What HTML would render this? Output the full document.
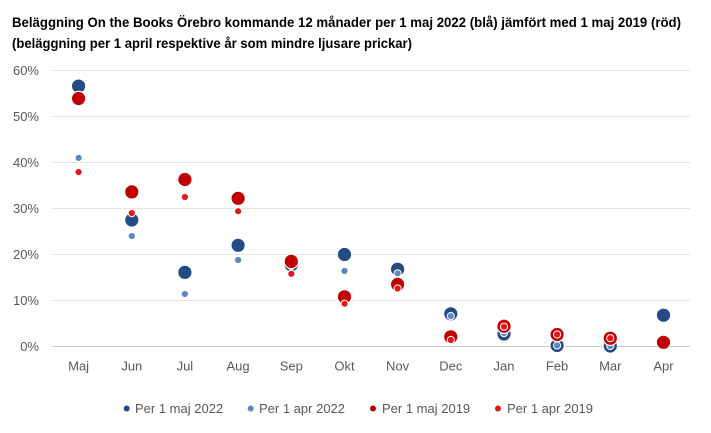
<!DOCTYPE html>
<html><head><meta charset="utf-8"><style>
html,body{margin:0;padding:0;background:#fff;}
svg{display:block;}
text{font-family:"Liberation Sans",sans-serif;}
</style></head><body>
<svg width="711" height="433" viewBox="0 0 711 433" xmlns="http://www.w3.org/2000/svg">
<rect width="711" height="433" fill="#fff"/>
<text x="12" y="27" font-size="13.5" font-weight="bold" fill="#000" textLength="669" lengthAdjust="spacingAndGlyphs">Beläggning On the Books Örebro kommande 12 månader per 1 maj 2022 (blå) jämfört med 1 maj 2019  (röd)</text>
<text x="12" y="48" font-size="13.5" font-weight="bold" fill="#000" textLength="400" lengthAdjust="spacingAndGlyphs">(beläggning per 1 april respektive år som mindre ljusare prickar)</text>
<g stroke="#E4E4E4" stroke-width="1">
<line x1="52" y1="70.5" x2="690" y2="70.5"/>
<line x1="52" y1="116.5" x2="690" y2="116.5"/>
<line x1="52" y1="162.5" x2="690" y2="162.5"/>
<line x1="52" y1="208.5" x2="690" y2="208.5"/>
<line x1="52" y1="254.5" x2="690" y2="254.5"/>
<line x1="52" y1="300.5" x2="690" y2="300.5"/>
</g>
<line x1="52" y1="346.5" x2="690" y2="346.5" stroke="#C8C8C8" stroke-width="1"/>
<g font-size="13" fill="#595959" text-anchor="end">
<text x="39" y="75">60%</text>
<text x="39" y="121">50%</text>
<text x="39" y="167">40%</text>
<text x="39" y="213">30%</text>
<text x="39" y="259">20%</text>
<text x="39" y="305">10%</text>
<text x="39" y="351">0%</text>
</g>
<g font-size="13" fill="#595959" text-anchor="middle">
<text x="78.6" y="370.5">Maj</text>
<text x="131.8" y="370.5">Jun</text>
<text x="184.9" y="370.5">Jul</text>
<text x="238.1" y="370.5">Aug</text>
<text x="291.3" y="370.5">Sep</text>
<text x="344.5" y="370.5">Okt</text>
<text x="397.6" y="370.5">Nov</text>
<text x="450.8" y="370.5">Dec</text>
<text x="504.0" y="370.5">Jan</text>
<text x="557.1" y="370.5">Feb</text>
<text x="610.3" y="370.5">Mar</text>
<text x="663.5" y="370.5">Apr</text>
</g>
<!-- big blue 2022 -->
<g fill="#234B85" stroke="#fff" stroke-width="1.2">
<circle cx="78.6" cy="86.1" r="7.2"/>
<circle cx="131.8" cy="220" r="7.2"/>
<circle cx="184.9" cy="272.4" r="7.2"/>
<circle cx="238.1" cy="245.3" r="7.2"/>
<circle cx="291.3" cy="265" r="7.2"/>
<circle cx="344.5" cy="254.5" r="7.2"/>
<circle cx="397.6" cy="269.2" r="7.2"/>
<circle cx="450.8" cy="313.8" r="7.2"/>
<circle cx="504.0" cy="334" r="7.2"/>
<circle cx="557.1" cy="345.5" r="7.2"/>
<circle cx="610.3" cy="346" r="7.2"/>
<circle cx="663.5" cy="315.2" r="7.2"/>
</g>
<!-- small blue apr 2022 -->
<g fill="#5A88C2" stroke="#fff" stroke-width="1">
<circle cx="78.6" cy="157.9" r="3.6"/>
<circle cx="131.8" cy="236.1" r="3.6"/>
<circle cx="184.9" cy="294" r="3.6"/>
<circle cx="238.1" cy="260" r="3.6"/>
<circle cx="291.3" cy="266" r="3.6"/>
<circle cx="344.5" cy="271" r="3.6"/>
<circle cx="397.6" cy="273.3" r="3.6"/>
<circle cx="450.8" cy="316.1" r="3.6"/>
<circle cx="504.0" cy="333.1" r="3.6"/>
<circle cx="557.1" cy="345.5" r="3.6"/>
<circle cx="610.3" cy="346" r="3.6"/>
</g>
<!-- big red 2019 -->
<g fill="#C00000" stroke="#fff" stroke-width="1.2">
<circle cx="78.6" cy="98.5" r="7.2"/>
<circle cx="131.8" cy="191.9" r="7.2"/>
<circle cx="184.9" cy="179.5" r="7.2"/>
<circle cx="238.1" cy="198.3" r="7.2"/>
<circle cx="291.3" cy="261.4" r="7.2"/>
<circle cx="344.5" cy="296.8" r="7.2"/>
<circle cx="397.6" cy="284.4" r="7.2"/>
<circle cx="450.8" cy="336.8" r="7.2"/>
<circle cx="504.0" cy="326.2" r="7.2"/>
<circle cx="557.1" cy="334.5" r="7.2"/>
<circle cx="610.3" cy="338.2" r="7.2"/>
<circle cx="663.5" cy="342.3" r="7.2"/>
</g>
<!-- small red apr 2019 -->
<g fill="#E8141C" stroke="#fff" stroke-width="1">
<circle cx="78.6" cy="172.1" r="3.6"/>
<circle cx="131.8" cy="213.1" r="3.6"/>
<circle cx="184.9" cy="197" r="3.6"/>
<circle cx="238.1" cy="211.2" r="3.6"/>
<circle cx="291.3" cy="273.8" r="3.6"/>
<circle cx="344.5" cy="303.7" r="3.6"/>
<circle cx="397.6" cy="288.5" r="3.6"/>
<circle cx="450.8" cy="340" r="3.6"/>
<circle cx="504.0" cy="326.7" r="3.6"/>
<circle cx="557.1" cy="334.5" r="3.6"/>
<circle cx="610.3" cy="338.2" r="3.6"/>
</g>
<!-- legend -->
<circle cx="126.7" cy="408.5" r="3" fill="#234B85"/>
<circle cx="250.7" cy="408.5" r="3" fill="#5A88C2"/>
<circle cx="373" cy="408.5" r="3" fill="#C00000"/>
<circle cx="498" cy="408.5" r="3" fill="#E8141C"/>
<g font-size="13" fill="#595959">
<text x="135" y="413">Per 1 maj 2022</text>
<text x="259" y="413">Per 1 apr 2022</text>
<text x="382" y="413">Per 1 maj 2019</text>
<text x="507" y="413">Per 1 apr 2019</text>
</g>
</svg>
</body></html>
